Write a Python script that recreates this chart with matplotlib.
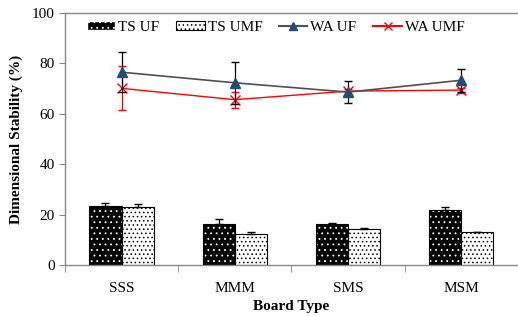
import matplotlib.pyplot as plt
import numpy as np
from matplotlib.patches import Patch
from matplotlib.lines import Line2D

plt.rcParams["font.family"] = ["Liberation Serif", "DejaVu Serif"]
plt.rcParams["hatch.linewidth"] = 0.6

boards = ["SSS", "MMM", "SMS", "MSM"]
ts_uf = [23.4, 16.1, 16.3, 21.8]
ts_uf_err = [1.1, 2.0, 0.3, 1.1]
ts_umf = [22.9, 12.2, 14.2, 13.2]
ts_umf_err = [1.3, 0.7, 0.5, 0.0]
wa_uf = [76.5, 72.3, 68.6, 73.3]
wa_uf_err = [7.9, 8.4, 4.3, 4.6]
wa_umf = [70.1, 65.6, 69.0, 69.4]
wa_umf_err = [8.7, 3.2, 1.0, 1.0]

fig = plt.figure(figsize=(5.18, 3.16), dpi=100)
ax = fig.add_axes([0.1255, 0.1614, 0.874, 0.7975])

x = np.arange(len(boards))
w = 0.285
gray = "#868686"

# TS UF: black bar with white dots
ax.bar(x - w / 2, ts_uf, w, color="black", edgecolor="white", hatch="...",
       linewidth=0, zorder=2)
ax.bar(x - w / 2, ts_uf, w, fill=False, edgecolor="black", linewidth=0.8,
       zorder=3)
ax.errorbar(x - w / 2, ts_uf, yerr=[np.zeros(4), ts_uf_err], fmt="none",
            ecolor="black", elinewidth=0.9, capsize=3, zorder=4)

# TS UMF: white bar with black dots
ax.bar(x + w / 2, ts_umf, w, color="white", edgecolor="black", hatch="....",
       linewidth=0.8, zorder=2)
ax.errorbar(x + w / 2, ts_umf, yerr=[np.zeros(4), ts_umf_err], fmt="none",
            ecolor="black", elinewidth=0.9, capsize=3, zorder=4)

# WA lines
ax.errorbar(x, wa_umf, yerr=wa_umf_err, fmt="none", ecolor="red",
            elinewidth=0.9, capsize=3, zorder=5)
ax.plot(x, wa_umf, color="red", linewidth=1.0, marker="x", markersize=7,
        markeredgewidth=1.0, zorder=6)
ax.errorbar(x, wa_uf, yerr=wa_uf_err, fmt="none", ecolor="black",
            elinewidth=0.9, capsize=3, zorder=7)
ax.plot(x, wa_uf, color="#505050", linewidth=1.2, marker="^", markersize=7,
        markerfacecolor="#1f4e79", markeredgecolor="#1f4e79", zorder=8)

ax.set_xlim(-0.5, 3.5)
ax.set_ylim(0, 100)
ax.set_yticks(range(0, 101, 20))
ax.set_xticks(x)
ax.set_xticklabels(boards)
ax.set_xticks(np.arange(-0.5, 4.0, 1.0), minor=True)
ax.tick_params(axis="x", which="major", length=0, pad=12, labelsize=11)
ax.tick_params(axis="x", which="minor", length=5, color=gray, direction="out")
ax.tick_params(axis="y", length=4, color=gray, labelsize=11)

for s in ["left", "bottom", "top"]:
    ax.spines[s].set_color(gray)
    ax.spines[s].set_linewidth(1.0)
ax.spines["right"].set_visible(False)

ax.set_xlabel("Board Type", fontsize=11, fontweight="bold", labelpad=4)
ax.set_ylabel("Dimensional Stability (%)", fontsize=11, fontweight="bold",
              labelpad=6)

# legend proxies
h = [
    Patch(facecolor="black", edgecolor="white", hatch="..."),
    Patch(facecolor="white", edgecolor="black", hatch="....", linewidth=0.8),
    Line2D([], [], color="#505050", marker="^", markersize=6,
           markerfacecolor="#1f4e79", markeredgecolor="#1f4e79"),
    Line2D([], [], color="red", marker="x", markersize=6),
]
ax.legend(h, ["TS UF", "TS UMF", "WA UF", "WA UMF"], ncol=4, frameon=False,
          loc="upper left", bbox_to_anchor=(0.025, 1.01), fontsize=11,
          handlelength=1.85, handleheight=0.5, handletextpad=0.2,
          columnspacing=1.1, borderaxespad=0.3)

fig.savefig("out.png", dpi=100)
